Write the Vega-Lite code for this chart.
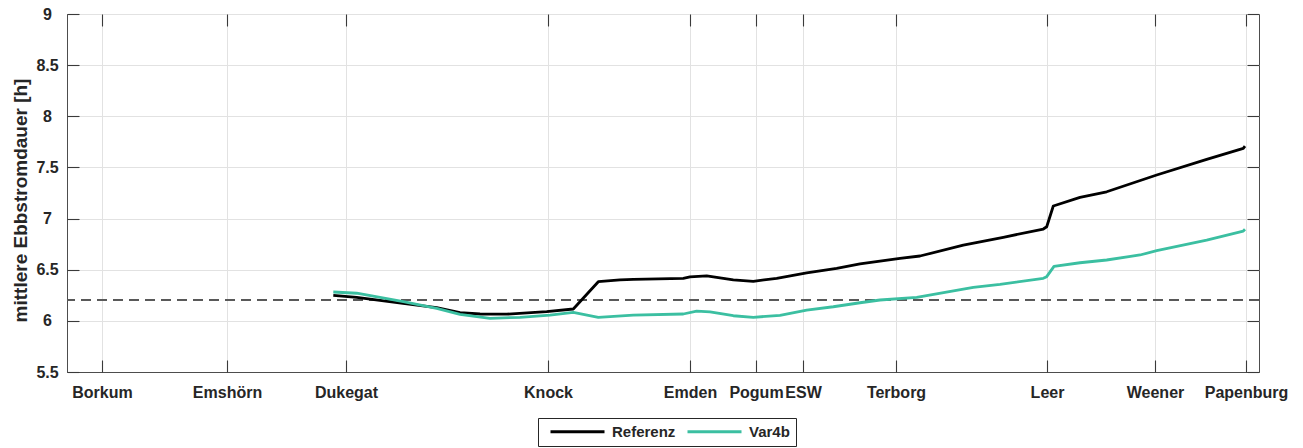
{
  "$schema": "https://vega.github.io/schema/vega-lite/v6.json",
  "width": 1192,
  "height": 358,
  "autosize": "none",
  "padding": {"left": 67, "top": 14, "right": 44, "bottom": 76},
  "background": "white",
  "config": {
    "view": {"stroke": "#4d4d4d", "strokeWidth": 1},
    "font": "Liberation Sans",
    "axis": {
      "domainColor": "#4d4d4d",
      "tickColor": "#3a3a3a",
      "tickWidth": 1.1,
      "gridColor": "#e2e2e2",
      "gridWidth": 1,
      "labelFont": "Liberation Sans",
      "labelFontWeight": "bold",
      "labelColor": "#262626",
      "titleFont": "Liberation Sans",
      "titleFontWeight": "bold",
      "titleColor": "#262626"
    }
  },
  "data": {
    "values": [
      {"km": 26.63, "v": 6.25, "s": "Referenz"},
      {"km": 28.97, "v": 6.23, "s": "Referenz"},
      {"km": 33.6, "v": 6.17, "s": "Referenz"},
      {"km": 36.97, "v": 6.13, "s": "Referenz"},
      {"km": 39.3, "v": 6.08, "s": "Referenz"},
      {"km": 41.3, "v": 6.067, "s": "Referenz"},
      {"km": 43.97, "v": 6.065, "s": "Referenz"},
      {"km": 47.97, "v": 6.09, "s": "Referenz"},
      {"km": 50.63, "v": 6.116, "s": "Referenz"},
      {"km": 53.13, "v": 6.383, "s": "Referenz"},
      {"km": 55.3, "v": 6.4, "s": "Referenz"},
      {"km": 56.63, "v": 6.406, "s": "Referenz"},
      {"km": 61.63, "v": 6.416, "s": "Referenz"},
      {"km": 62.3, "v": 6.43, "s": "Referenz"},
      {"km": 63.97, "v": 6.44, "s": "Referenz"},
      {"km": 66.63, "v": 6.4, "s": "Referenz"},
      {"km": 68.63, "v": 6.387, "s": "Referenz"},
      {"km": 70.97, "v": 6.416, "s": "Referenz"},
      {"km": 73.97, "v": 6.47, "s": "Referenz"},
      {"km": 76.97, "v": 6.513, "s": "Referenz"},
      {"km": 79.3, "v": 6.556, "s": "Referenz"},
      {"km": 81.3, "v": 6.585, "s": "Referenz"},
      {"km": 83.3, "v": 6.611, "s": "Referenz"},
      {"km": 85.3, "v": 6.634, "s": "Referenz"},
      {"km": 89.63, "v": 6.741, "s": "Referenz"},
      {"km": 93.63, "v": 6.817, "s": "Referenz"},
      {"km": 97.63, "v": 6.898, "s": "Referenz"},
      {"km": 97.97, "v": 6.92, "s": "Referenz"},
      {"km": 98.63, "v": 7.123, "s": "Referenz"},
      {"km": 101.3, "v": 7.207, "s": "Referenz"},
      {"km": 103.97, "v": 7.262, "s": "Referenz"},
      {"km": 108.97, "v": 7.426, "s": "Referenz"},
      {"km": 113.97, "v": 7.579, "s": "Referenz"},
      {"km": 117.63, "v": 7.687, "s": "Referenz"},
      {"km": 117.8, "v": 7.709, "s": "Referenz"},
      {"km": 26.63, "v": 6.282, "s": "Var4b"},
      {"km": 28.97, "v": 6.27, "s": "Var4b"},
      {"km": 33.63, "v": 6.187, "s": "Var4b"},
      {"km": 36.97, "v": 6.123, "s": "Var4b"},
      {"km": 39.3, "v": 6.064, "s": "Var4b"},
      {"km": 42.3, "v": 6.025, "s": "Var4b"},
      {"km": 45.3, "v": 6.035, "s": "Var4b"},
      {"km": 48.3, "v": 6.057, "s": "Var4b"},
      {"km": 50.63, "v": 6.083, "s": "Var4b"},
      {"km": 53.13, "v": 6.035, "s": "Var4b"},
      {"km": 56.63, "v": 6.057, "s": "Var4b"},
      {"km": 61.63, "v": 6.067, "s": "Var4b"},
      {"km": 62.97, "v": 6.096, "s": "Var4b"},
      {"km": 64.3, "v": 6.087, "s": "Var4b"},
      {"km": 66.63, "v": 6.05, "s": "Var4b"},
      {"km": 68.63, "v": 6.035, "s": "Var4b"},
      {"km": 71.3, "v": 6.054, "s": "Var4b"},
      {"km": 73.97, "v": 6.106, "s": "Var4b"},
      {"km": 76.63, "v": 6.138, "s": "Var4b"},
      {"km": 79.3, "v": 6.177, "s": "Var4b"},
      {"km": 81.3, "v": 6.204, "s": "Var4b"},
      {"km": 84.97, "v": 6.23, "s": "Var4b"},
      {"km": 90.63, "v": 6.328, "s": "Var4b"},
      {"km": 93.3, "v": 6.357, "s": "Var4b"},
      {"km": 97.63, "v": 6.416, "s": "Var4b"},
      {"km": 97.97, "v": 6.432, "s": "Var4b"},
      {"km": 98.7, "v": 6.533, "s": "Var4b"},
      {"km": 101.3, "v": 6.568, "s": "Var4b"},
      {"km": 103.97, "v": 6.595, "s": "Var4b"},
      {"km": 107.3, "v": 6.644, "s": "Var4b"},
      {"km": 108.97, "v": 6.686, "s": "Var4b"},
      {"km": 113.97, "v": 6.79, "s": "Var4b"},
      {"km": 117.63, "v": 6.878, "s": "Var4b"},
      {"km": 117.8, "v": 6.895, "s": "Var4b"}
    ]
  },
  "layer": [
    {
      "mark": {"type": "rule", "stroke": "#5a5a5a", "strokeWidth": 1.3, "strokeDash": [10, 6]},
      "encoding": {"y": {"datum": 6.2, "type": "quantitative", "axis": null}}
    },
    {
      "mark": {"type": "line", "strokeWidth": 2.8, "strokeJoin": "round"},
      "encoding": {
        "x": {
          "field": "km",
          "type": "quantitative",
          "scale": {"domain": [0, 119.2], "nice": false, "zero": false},
          "axis": {
            "orient": "bottom",
            "title": null,
            "values": [3.5, 16.0, 27.9, 48.1, 62.3, 68.9, 73.6, 82.9, 98.0, 108.8, 117.9],
            "labelExpr": "datum.value == 3.5 ? 'Borkum' : datum.value == 16 ? 'Emshörn' : datum.value == 27.9 ? 'Dukegat' : datum.value == 48.1 ? 'Knock' : datum.value == 62.3 ? 'Emden' : datum.value == 68.9 ? 'Pogum' : datum.value == 73.6 ? 'ESW' : datum.value == 82.9 ? 'Terborg' : datum.value == 98 ? 'Leer' : datum.value == 108.8 ? 'Weener' : 'Papenburg'",
            "labelFontSize": 16,
            "labelPadding": 12,
            "labelOverlap": false,
            "labelFlush": false,
            "labelBound": false,
            "grid": true,
            "ticks": false
          }
        },
        "y": {
          "field": "v",
          "type": "quantitative",
          "scale": {"domain": [5.5, 9], "nice": false, "zero": false},
          "axis": {
            "orient": "left",
            "title": "mittlere Ebbstromdauer [h]",
            "titleFontSize": 19,
            "titleX": -47,
            "titleY": 186,
            "titleAlign": "center",
            "titleBaseline": "middle",
            "titleAngle": -90,
            "values": [5.5, 6, 6.5, 7, 7.5, 8, 8.5, 9],
            "format": "~g",
            "labelFontSize": 16,
            "labelAlign": "center",
            "labelBaseline": "middle",
            "labelPadding": 20,
            "grid": true,
            "ticks": false
          }
        },
        "color": {
          "field": "s",
          "type": "nominal",
          "scale": {"domain": ["Referenz", "Var4b"], "range": ["#000000", "#3bbfa1"]},
          "legend": {
            "title": null,
            "orient": "none",
            "legendX": 471,
            "legendY": 404,
            "direction": "horizontal",
            "strokeColor": "#262626",
            "fillColor": "white",
            "padding": 6,
            "symbolType": "M-5.4,0H5.4",
            "symbolSize": 100,
            "symbolStrokeWidth": 3,
            "symbolOffset": 26,
            "labelFont": "Liberation Sans",
            "labelFontWeight": "bold",
            "labelFontSize": 15,
            "labelColor": "#262626",
            "labelOffset": 27,
            "columnPadding": 5
          }
        }
      }
    },
    {
      "mark": {"type": "point", "opacity": 0},
      "encoding": {
        "x": {
          "field": "km",
          "type": "quantitative",
          "axis": {
            "orient": "top",
            "title": null,
            "labels": false,
            "grid": false,
            "domain": false,
            "ticks": true,
            "tickSize": 12,
            "offset": -12,
            "values": [3.5, 16.0, 27.9, 48.1, 62.3, 68.9, 73.6, 82.9, 98.0, 108.8, 117.9]
          }
        },
        "y": {
          "field": "v",
          "type": "quantitative",
          "axis": {
            "orient": "right",
            "title": null,
            "labels": false,
            "grid": false,
            "domain": false,
            "ticks": true,
            "tickSize": 12,
            "offset": -12,
            "values": [5.5, 6, 6.5, 7, 7.5, 8, 8.5, 9]
          }
        }
      }
    },
    {
      "mark": {"type": "point", "opacity": 0},
      "encoding": {
        "x": {
          "field": "km",
          "type": "quantitative",
          "axis": {
            "orient": "bottom",
            "title": null,
            "labels": false,
            "grid": false,
            "domain": false,
            "ticks": true,
            "tickSize": 12,
            "offset": -12,
            "values": [3.5, 16.0, 27.9, 48.1, 62.3, 68.9, 73.6, 82.9, 98.0, 108.8, 117.9]
          }
        },
        "y": {
          "field": "v",
          "type": "quantitative",
          "axis": {
            "orient": "left",
            "title": null,
            "labels": false,
            "grid": false,
            "domain": false,
            "ticks": true,
            "tickSize": 12,
            "offset": -12,
            "values": [5.5, 6, 6.5, 7, 7.5, 8, 8.5, 9]
          }
        }
      }
    }
  ],
  "resolve": {"axis": {"x": "independent", "y": "independent"}}
}
